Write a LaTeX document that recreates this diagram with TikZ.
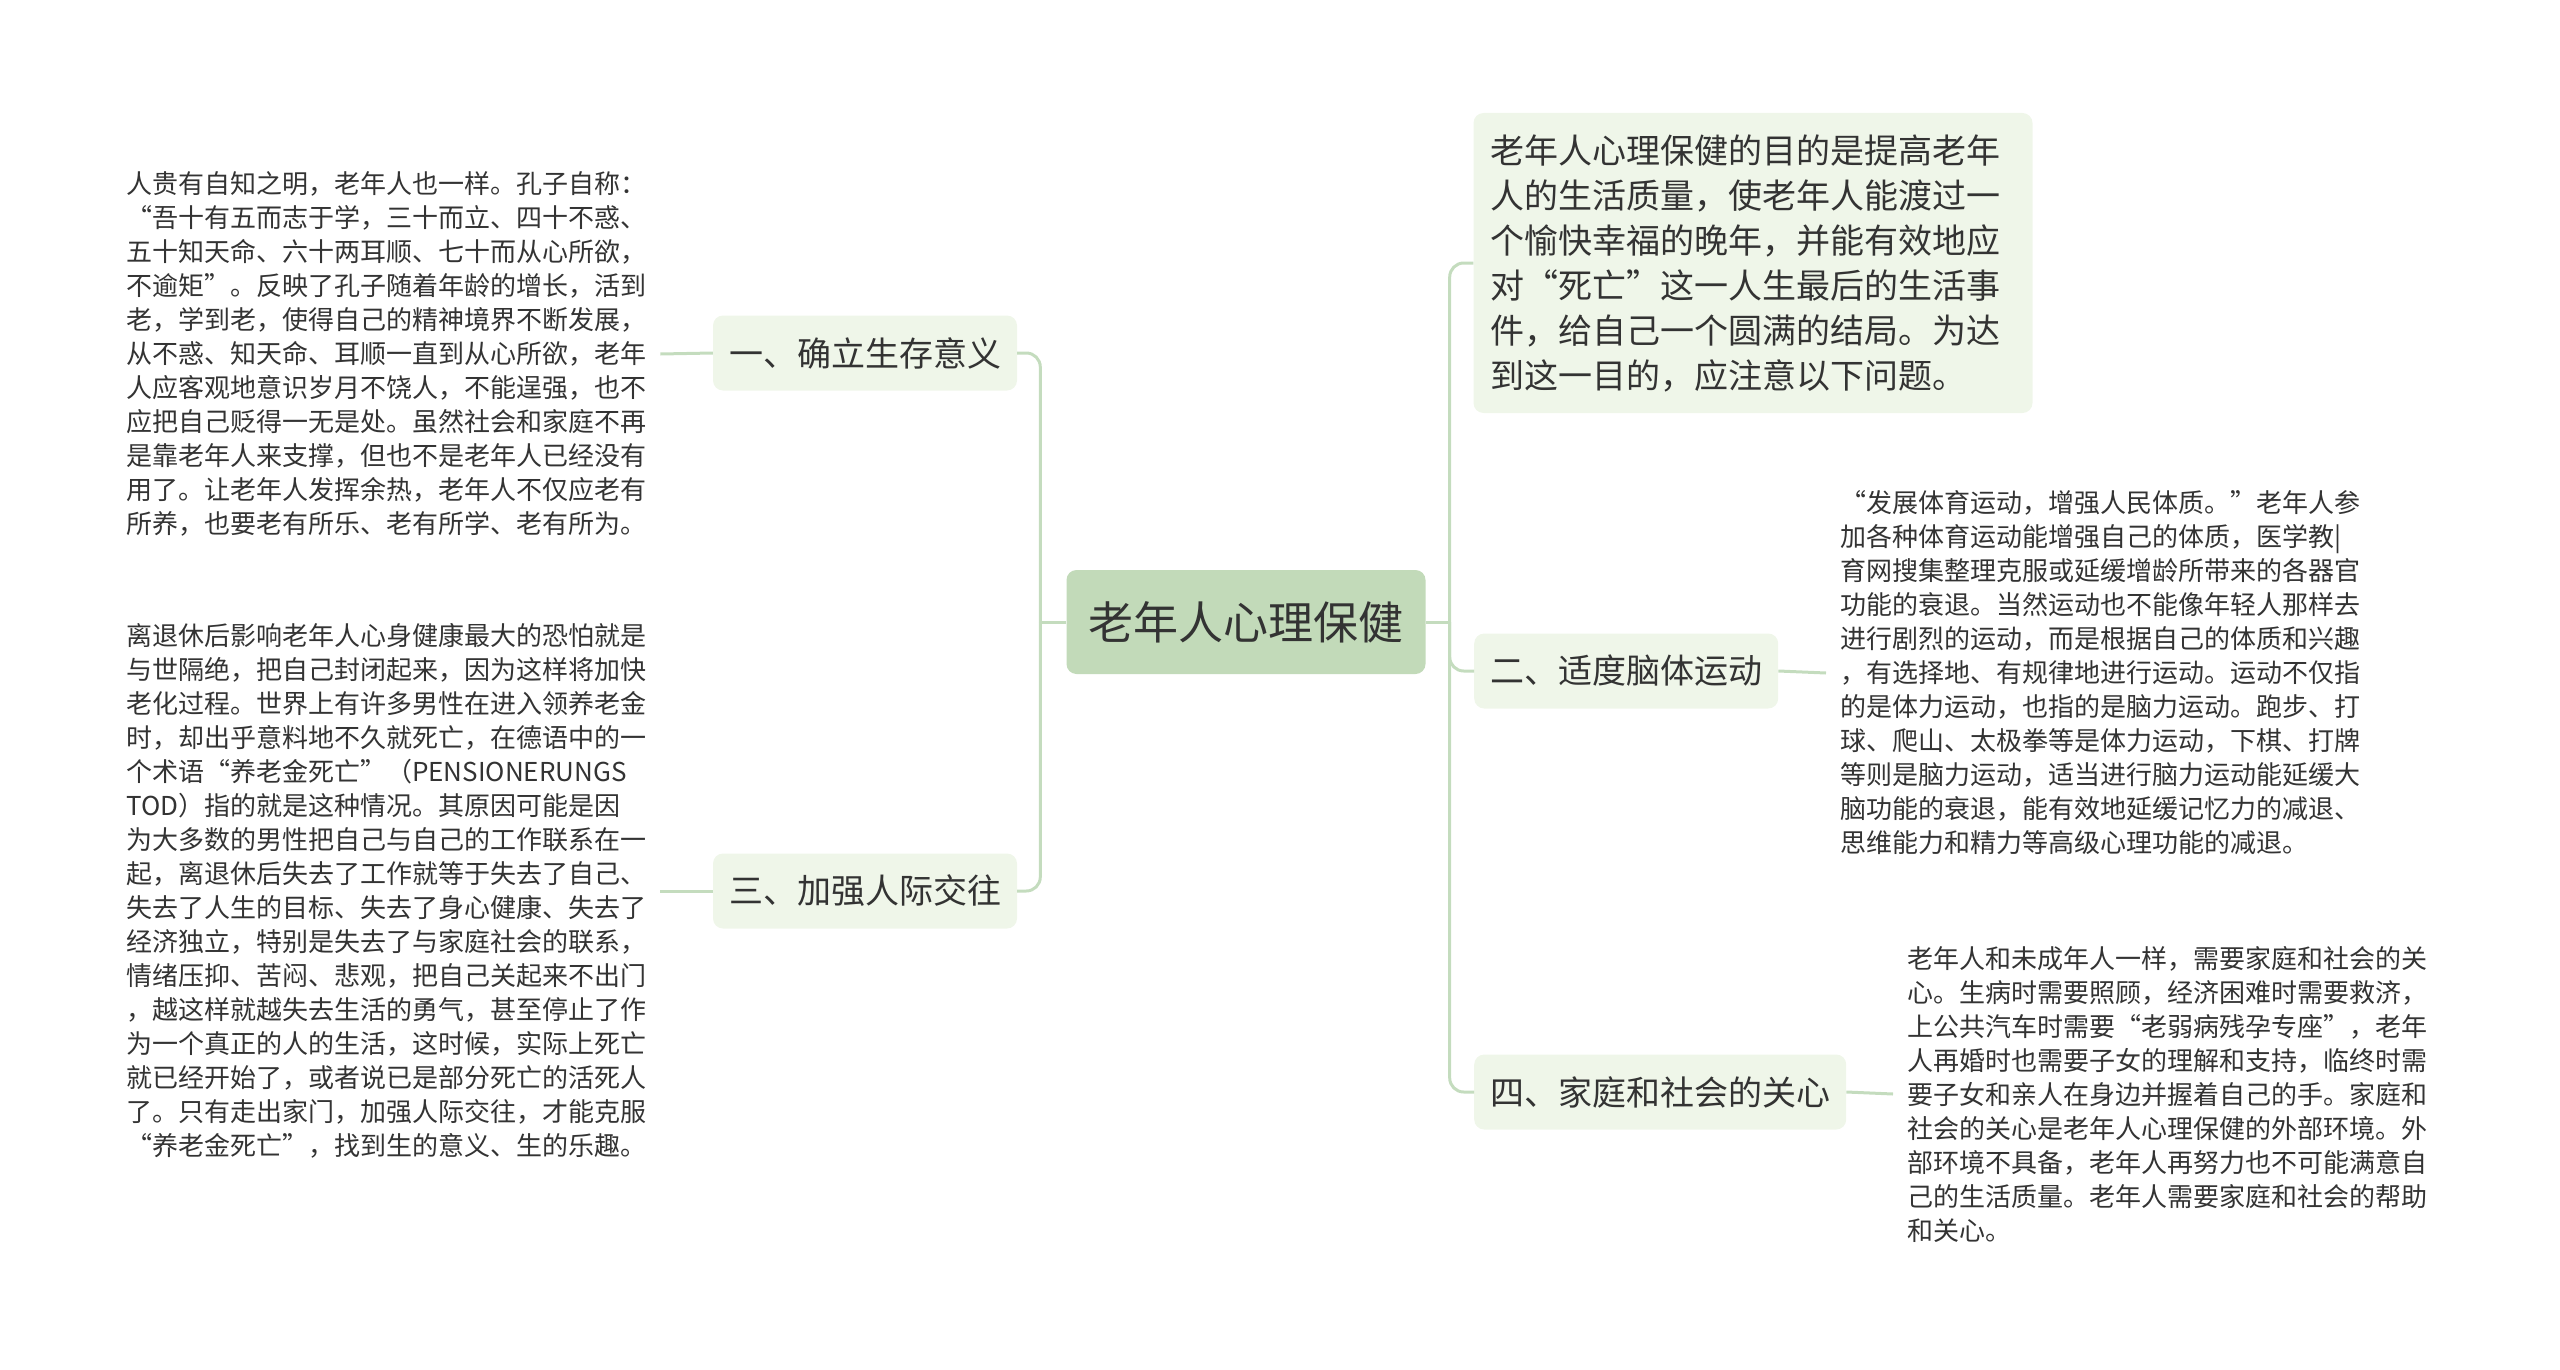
\documentclass[tikz,border=0pt]{standalone}
\usepackage{fontspec}
\setmainfont{Noto Sans CJK SC}
\definecolor{LG}{HTML}{C4DCBE}
\definecolor{RG}{HTML}{C2DAB9}
\definecolor{BG}{HTML}{EFF6E9}
\definecolor{TC}{HTML}{333333}
\tikzset{
    RT/.style ={rectangle,rounded corners=10pt,fill=RG,text=TC,minimum width=359pt,minimum height=104pt,font=\fontsize{45}{54}\selectfont},
    BR/.style ={rectangle,rounded corners=10pt,fill=BG,text=TC,inner xsep=16pt,minimum height=75pt,font=\fontsize{34}{40}\selectfont},
    BX/.style ={rectangle,rounded corners=10pt,fill=BG,text=TC,text width=525pt,minimum width=559pt,minimum height=300pt,align=left,font=\fontsize{34}{45}\selectfont},
    TX/.style ={inner xsep=14pt,inner ysep=0pt,anchor=west,align=left,text=TC,font=\fontsize{26}{34}\selectfont},
    LN/.style ={draw=LG,line width=3pt,rounded corners=14pt}}

\begin{document}
\begin{tikzpicture}[x=1pt,y=-1pt]
        \useasboundingbox (0,0) rectangle (2560,1370);
        \node[RT] (0) at(1246,622){老年人心理保健};
        \node[BR] (1) at(865,353){一、确立生存意义};
        \node[BR] (2) at(865,891){三、加强人际交往};
        \node[BX] (3) at(1753,263){老年人心理保健的目的是提高老年\\人的生活质量，使老年人能渡过一\\个愉快幸福的晚年，并能有效地应\\对“死亡”这一人生最后的生活事\\件，给自己一个圆满的结局。为达\\到这一目的，应注意以下问题。};
        \node[BR,anchor=west] (4) at(1474,671){二、适度脑体运动};
        \node[BR,anchor=west] (5) at(1474,1092){四、家庭和社会的关心};
        \node[TX] (6) at(112,354){人贵有自知之明，老年人也一样。孔子自称：\\“吾十有五而志于学，三十而立、四十不惑、\\五十知天命、六十两耳顺、七十而从心所欲，\\不逾矩”。反映了孔子随着年龄的增长，活到\\老，学到老，使得自己的精神境界不断发展，\\从不惑、知天命、耳顺一直到从心所欲，老年\\人应客观地意识岁月不饶人，不能逞强，也不\\应把自己贬得一无是处。虽然社会和家庭不再\\是靠老年人来支撑，但也不是老年人已经没有\\用了。让老年人发挥余热，老年人不仅应老有\\所养，也要老有所乐、老有所学、老有所为。};
        \node[TX] (7) at(112,891){离退休后影响老年人心身健康最大的恐怕就是\\与世隔绝，把自己封闭起来，因为这样将加快\\老化过程。世界上有许多男性在进入领养老金\\时，却出乎意料地不久就死亡，在德语中的一\\个术语“养老金死亡”（PENSIONERUNGS\\TOD）指的就是这种情况。其原因可能是因\\为大多数的男性把自己与自己的工作联系在一\\起，离退休后失去了工作就等于失去了自己、\\失去了人生的目标、失去了身心健康、失去了\\经济独立，特别是失去了与家庭社会的联系，\\情绪压抑、苦闷、悲观，把自己关起来不出门\\，越这样就越失去生活的勇气，甚至停止了作\\为一个真正的人的生活，这时候，实际上死亡\\就已经开始了，或者说已是部分死亡的活死人\\了。只有走出家门，加强人际交往，才能克服\\“养老金死亡”，找到生的意义、生的乐趣。};
        \node[TX] (8) at(1826,673){“发展体育运动，增强人民体质。”老年人参\\加各种体育运动能增强自己的体质，医学教|\\育网搜集整理克服或延缓增龄所带来的各器官\\功能的衰退。当然运动也不能像年轻人那样去\\进行剧烈的运动，而是根据自己的体质和兴趣\\，有选择地、有规律地进行运动。运动不仅指\\的是体力运动，也指的是脑力运动。跑步、打\\球、爬山、太极拳等是体力运动，下棋、打牌\\等则是脑力运动，适当进行脑力运动能延缓大\\脑功能的衰退，能有效地延缓记忆力的减退、\\思维能力和精力等高级心理功能的减退。};
        \node[TX] (9) at(1893,1094){老年人和未成年人一样，需要家庭和社会的关\\心。生病时需要照顾，经济困难时需要救济，\\上公共汽车时需要“老弱病残孕专座”，老年\\人再婚时也需要子女的理解和支持，临终时需\\要子女和亲人在身边并握着自己的手。家庭和\\社会的关心是老年人心理保健的外部环境。外\\部环境不具备，老年人再努力也不可能满意自\\己的生活质量。老年人需要家庭和社会的帮助\\和关心。};
        \coordinate (L) at([xshift=-26pt]0.west);
        \coordinate (R) at([xshift=24pt]0.east);
        \draw[LN] (0.west) -- (L);
        \draw[LN] (L) |- (1.east);
        \draw[LN] (L) |- (2.east);
        \draw[LN] (0.east) -- (R);
        \draw[LN] (R) |- (3.west);
        \draw[LN] (R) |- (4.west);
        \draw[LN] (R) |- (5.west);
        \draw[LN] (1.west) -- (6.east);
        \draw[LN] (2.west) -- (7.east);
        \draw[LN] (4.east) -- (8.west);
        \draw[LN] (5.east) -- (9.west);
    \end{tikzpicture}
\end{document}
